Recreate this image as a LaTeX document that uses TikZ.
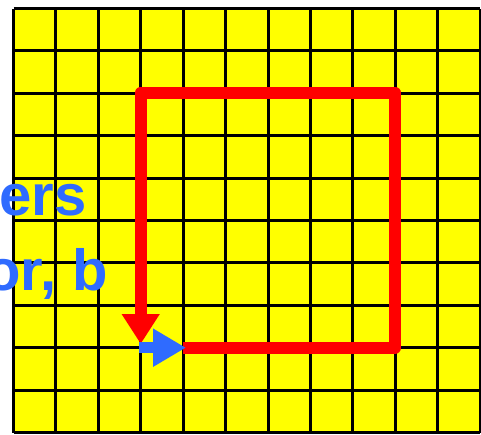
\documentclass[tikz,border=0pt]{standalone}
\usepackage{fontspec}
\setmainfont{Liberation Sans}
\usetikzlibrary{arrows.meta}
\definecolor{gridyellow}{RGB}{255,255,0}
\definecolor{textblue}{RGB}{47,107,255}
\definecolor{pathred}{RGB}{255,0,0}
\tikzset{
  gridline/.style={black, line width=3pt},
  redpath/.style={pathred, line width=12pt, line join=round,
    -{Triangle[length=30pt,width=36pt]}},
  bluearrow/.style={textblue, line width=11pt,
    -{Triangle[length=33pt,width=36pt]}},
  bigtext/.style={textblue, inner sep=0pt, anchor=base east,
    font=\fontsize{58}{61}\selectfont\bfseries}
}
\begin{document}
\begin{tikzpicture}[x=1pt,y=-1pt]
\useasboundingbox (0,0) rectangle (481,434);
\clip (0,0) rectangle (481,434);
% grid
\fill[gridyellow] (13.5,8.5) rectangle (480.1,432.5);
\foreach \i in {0,...,11} {
  \draw[gridline] ({13.5+42.42*\i},8.5) -- ({13.5+42.42*\i},432.5);
}
\foreach \j in {0,...,10} {
  \draw[gridline] (13.5,{8.5+42.4*\j}) -- (480.1,{8.5+42.4*\j});
}
% coordinates
\coordinate (start) at (183,347.7);
\coordinate (br) at (395,347.7);
\coordinate (tr) at (395,92.5);
\coordinate (tl) at (140.7,92.5);
\coordinate (tip) at (140.7,344);
\coordinate (bstart) at (139,347.7);
\coordinate (bend) at (186,347.7);
% red path
\draw[redpath] (start) -- (br) -- (tr) -- (tl) -- (tip);
% blue arrow
\draw[bluearrow] (bstart) -- (bend);
% text
\node[bigtext] (t1) at (87,215) {ers};
\node[bigtext] (t2) at (108,290) {or, b};
\end{tikzpicture}
\end{document}
